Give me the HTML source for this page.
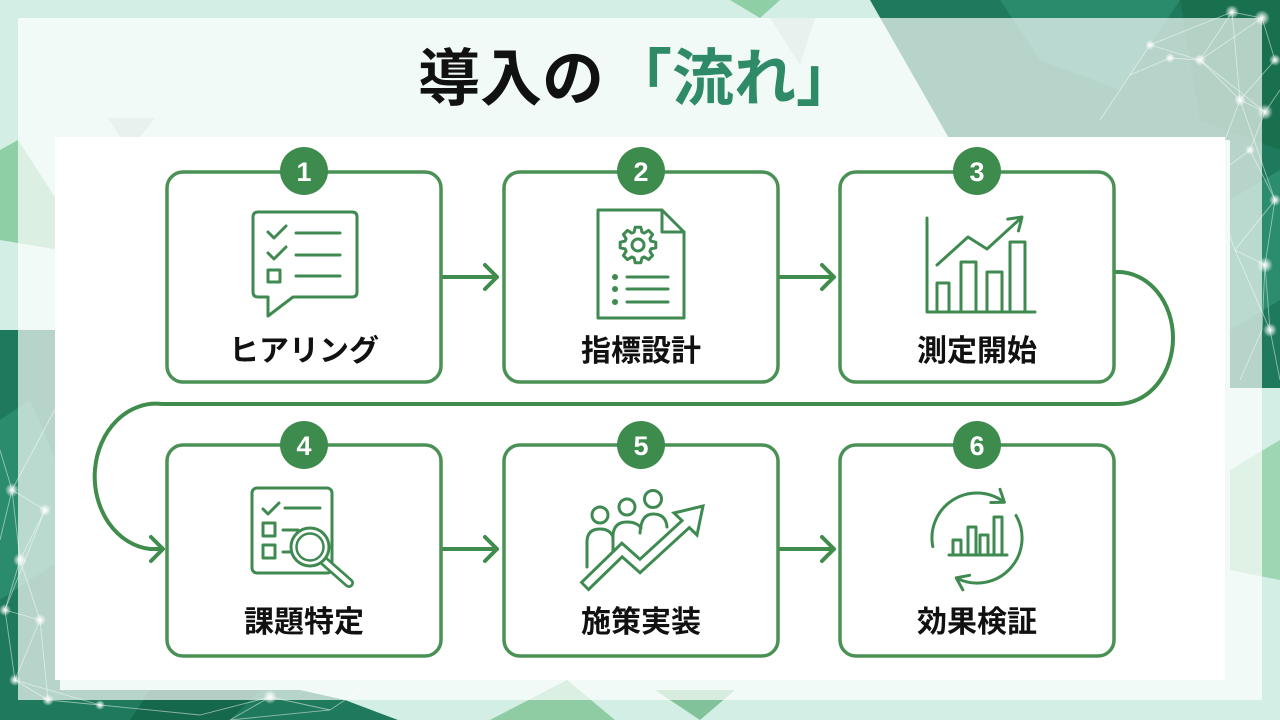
<!DOCTYPE html>
<html><head><meta charset="utf-8">
<style>
html,body{margin:0;padding:0;width:1280px;height:720px;overflow:hidden;background:#d3eee4;}
svg{display:block}
text{font-family:"Liberation Sans","Noto Sans CJK JP",sans-serif;font-weight:bold;}
</style></head><body>
<svg width="1280" height="720" viewBox="0 0 1280 720" xmlns="http://www.w3.org/2000/svg">
<defs>
<radialGradient id="glow"><stop offset="0" stop-color="#fff" stop-opacity="1"/><stop offset="0.35" stop-color="#fff" stop-opacity="0.7"/><stop offset="1" stop-color="#fff" stop-opacity="0"/></radialGradient>
</defs>
<!-- background -->
<rect width="1280" height="720" fill="#d3eee4"/>
<polygon points="870,0 1280,0 1280,388 1230,388 1230,140 950,140" fill="#1f7a5d"/>
<polygon points="1000,0 1180,0 1120,90 1040,60" fill="#2a8a6c"/>
<polygon points="1180,0 1280,0 1280,150 1200,120" fill="#18704f"/>
<polygon points="1230,200 1280,170 1280,300 1230,330" fill="#2b8c6e"/>
<polygon points="730,0 780,0 760,18" fill="#8fcfa6"/>
<polygon points="0,150 18,140 60,205 60,250 0,240" fill="#8fcfa6"/>
<polygon points="0,330 60,330 60,690 300,690 345,700 398,720 0,720" fill="#1f7a5d"/>
<polygon points="0,420 30,400 60,470 60,560 0,600" fill="#2a8c6d"/>
<polygon points="150,690 260,690 230,720 130,720" fill="#16684c"/>
<polygon points="490,720 567,680 615,720" fill="#8fcca4"/>
<polygon points="655,690 735,690 700,720" fill="#82c29b"/>
<polygon points="1230,470 1280,440 1280,580 1230,570" fill="#9ed5b2"/>
<polygon points="108,118 155,118 140,137 120,137" fill="#b9d4ca"/>
<polygon points="770,18 815,18 800,65" fill="#b9d4ca"/>
<!-- network lines -->
<g stroke="#ffffff" stroke-opacity="0.5" stroke-width="0.9" fill="none">
<polyline points="1150,45 1200,60 1232,12 1262,18 1275,60 1240,100 1265,112 1250,150 1275,200 1265,265 1270,330"/>
<polyline points="1130,75 1170,58 1200,60 1240,100 1210,180 1250,150"/>
<polyline points="1232,12 1240,100 1275,200 1235,250 1265,265 1262,330 1240,380"/>
<polyline points="1262,18 1200,60 1265,112 1280,90"/>
<polyline points="1100,120 1150,45 1232,12"/>
<polyline points="1210,180 1235,250 1270,330 1280,380"/>
<polyline points="12,490 45,510 20,560 5,610 40,620 15,680 48,700 100,705 200,715 270,697 330,710"/>
<polyline points="0,450 12,490 20,560 40,620 48,700"/>
<polyline points="45,510 5,610 15,680 100,705"/>
<polyline points="60,400 12,490 0,540"/>
<polyline points="270,697 230,720 330,710 360,690"/>
</g>
<g fill="url(#glow)">
<circle cx="1232" cy="12" r="7"/><circle cx="1262" cy="18" r="8"/><circle cx="1275" cy="60" r="6"/>
<circle cx="1240" cy="100" r="6"/><circle cx="1265" cy="112" r="8"/><circle cx="1250" cy="150" r="5"/>
<circle cx="1275" cy="200" r="6"/><circle cx="1265" cy="265" r="8"/><circle cx="1270" cy="330" r="7"/>
<circle cx="1200" cy="60" r="6"/><circle cx="1150" cy="45" r="5"/><circle cx="1170" cy="58" r="5"/>
<circle cx="12" cy="490" r="7"/><circle cx="45" cy="510" r="6"/><circle cx="20" cy="560" r="7"/>
<circle cx="5" cy="610" r="6"/><circle cx="40" cy="620" r="6"/><circle cx="15" cy="680" r="6"/>
<circle cx="48" cy="700" r="6"/><circle cx="270" cy="697" r="7"/><circle cx="100" cy="705" r="5"/>
</g>
<!-- panels -->
<rect x="18" y="18" width="1244" height="682" fill="#ffffff" fill-opacity="0.68"/>
<rect x="55" y="137" width="1170" height="543" fill="#ffffff"/>

<!-- title -->
<text x="418" y="100" font-size="62" fill="#111111">導入の</text>
<text x="610" y="100" font-size="62" fill="#2f8a68">「流れ」</text>

<!-- connectors -->
<g stroke="#3f8c4c" stroke-width="4" fill="none" stroke-linecap="round" stroke-linejoin="round">
<path d="M441,277 H497 M485,265 L497,277 L485,289"/>
<path d="M777,277 H834 M822,265 L834,277 L822,289"/>
<path d="M442,549 H497 M485,537 L497,549 L485,561"/>
<path d="M777,549 H834 M822,537 L834,549 L822,561"/>
<path d="M1115,272 H1118 A55,66 0 0 1 1118,404 H162 A61,72.5 0 0 0 150,549 H162"/>
<path d="M151,537 L163,549 L151,561"/>
</g>

<!-- cards -->
<g fill="#ffffff" stroke="#4a9155" stroke-width="3.5">
<rect x="167" y="172" width="274" height="210" rx="16"/>
<rect x="504" y="172" width="274" height="210" rx="16"/>
<rect x="840" y="172" width="274" height="210" rx="16"/>
<rect x="167" y="445" width="274" height="211" rx="16"/>
<rect x="504" y="445" width="274" height="211" rx="16"/>
<rect x="840" y="445" width="274" height="211" rx="16"/>
</g>

<!-- badges -->
<g fill="#3e8c4d">
<circle cx="304" cy="171" r="24"/><circle cx="641" cy="171" r="24"/><circle cx="977" cy="171" r="24"/>
<circle cx="304" cy="445" r="24"/><circle cx="641" cy="445" r="24"/><circle cx="977" cy="445" r="24"/>
</g>
<g fill="#ffffff" font-size="27" text-anchor="middle">
<text x="304" y="181">1</text><text x="641" y="181">2</text><text x="977" y="181">3</text>
<text x="304" y="455">4</text><text x="641" y="455">5</text><text x="977" y="455">6</text>
</g>

<!-- labels -->
<g fill="#111111" font-size="30" text-anchor="middle">
<text x="304" y="361">ヒアリング</text>
<text x="641" y="361">指標設計</text>
<text x="977" y="361">測定開始</text>
<text x="304" y="632">課題特定</text>
<text x="641" y="632">施策実装</text>
<text x="977" y="632">効果検証</text>
</g>

<!-- icons -->
<g stroke="#3f8a50" stroke-width="3" fill="none" stroke-linecap="round" stroke-linejoin="round">
<!-- icon1 -->
<path d="M258,212 H352 Q357,212 357,217 V292 Q357,297 352,297 H293 L268,316 V297 H258 Q253,297 253,292 V217 Q253,212 258,212 Z"/>
<polyline points="268,232 274,238 286,226"/>
<polyline points="268,253 274,259 286,247"/>
<rect x="268" y="270" width="12" height="12"/>
<path d="M296,233 H340 M296,255 H340 M296,276 H340"/>
<!-- icon2 -->
<path d="M598,210 H662 L684,232 V318 H598 Z"/>
<path d="M662,210 V232 H684"/>
<polygon points="650.9,241.1 655.8,242.2 655.8,247.8 650.9,248.9 649.9,251.3 652.6,255.6 648.6,259.6 644.3,256.9 642.0,257.9 640.8,262.8 635.2,262.8 634.1,257.9 631.7,256.9 627.4,259.6 623.4,255.6 626.1,251.3 625.1,248.9 620.2,247.8 620.2,242.2 625.1,241.1 626.1,238.7 623.4,234.4 627.4,230.4 631.7,233.1 634.1,232.1 635.2,227.2 640.8,227.2 642.0,232.1 644.3,233.1 648.6,230.4 652.6,234.4 649.9,238.7"/>
<circle cx="638" cy="245" r="6"/>
<path d="M627,277 H668 M627,289 H668 M627,302 H668"/>
<!-- icon3 -->
<polyline points="927,218 927,312 1035,312"/>
<rect x="937" y="283" width="12" height="29"/>
<rect x="961" y="262" width="15" height="50"/>
<rect x="987" y="272" width="15" height="40"/>
<rect x="1010" y="242" width="15" height="70"/>
<polyline points="937,265 968,237 987,249 1021,218"/>
<polyline points="1007.7,219.1 1022,217 1018.5,230.9"/>
<!-- icon4 -->
<rect x="252" y="488" width="80" height="85" rx="5"/>
<polyline points="263,509 268,514 279,503"/>
<path d="M285,508 H320"/>
<rect x="263" y="523" width="12" height="13"/>
<rect x="263" y="545" width="12" height="13"/>
<path d="M283,530 H298 M283,552 H296"/>
<!-- icon6 -->
<path d="M932.8,546.6 A45,45 0 0 1 1002.8,501.1"/>
<polyline points="990.8,502.5 1004.4,502.2 1000,489.3"/>
<path d="M1016,515.5 A45,45 0 0 1 958,578.8"/>
<polyline points="969.6,575.3 956.2,577.9 962.8,589.8"/>
<path d="M949,555 H1007"/>
<rect x="953" y="540" width="8" height="15"/>
<rect x="968" y="527" width="8" height="28"/>
<rect x="980" y="535" width="8" height="20"/>
<rect x="994" y="517" width="8" height="38"/>
<!-- icon5 people -->
<circle cx="600" cy="515" r="8"/>
<circle cx="627" cy="507" r="8"/>
<circle cx="653" cy="499" r="8.5"/>
<path d="M587,567 V542 Q587,529 600,529 Q610,529 613,537"/>
<path d="M613,552 V535 Q614,522 627,522 Q637,522 641,528"/>
<path d="M640,533 Q641,514 653,514 Q666,514 667,527"/>
</g>
<!-- icon2 bullets -->
<g fill="#3f8a50">
<circle cx="615" cy="277" r="3"/><circle cx="615" cy="289" r="3"/><circle cx="615" cy="302" r="3"/>
</g>
<!-- icon4 magnifier -->
<line x1="324" y1="561" x2="349" y2="583" stroke="#3f8a50" stroke-width="10" stroke-linecap="round"/>
<line x1="324" y1="561" x2="349" y2="583" stroke="#ffffff" stroke-width="4.5" stroke-linecap="round"/>
<circle cx="310" cy="547" r="19" fill="#ffffff" stroke="#3f8a50" stroke-width="3"/>
<circle cx="310" cy="547" r="13.5" fill="none" stroke="#3f8a50" stroke-width="2.5"/>
<!-- icon5 arrow -->
<polyline points="584,587 622,550 640,566 688,522" fill="none" stroke="#3f8a50" stroke-width="13" stroke-linejoin="miter" stroke-linecap="butt"/>
<polygon points="674,513 703,506 697,535" fill="#ffffff" stroke="#3f8a50" stroke-width="3" stroke-linejoin="miter"/>
<polyline points="586,585 622,550 640,566 688,522" fill="none" stroke="#ffffff" stroke-width="7" stroke-linejoin="miter" stroke-linecap="butt"/>
</svg>
</body></html>
